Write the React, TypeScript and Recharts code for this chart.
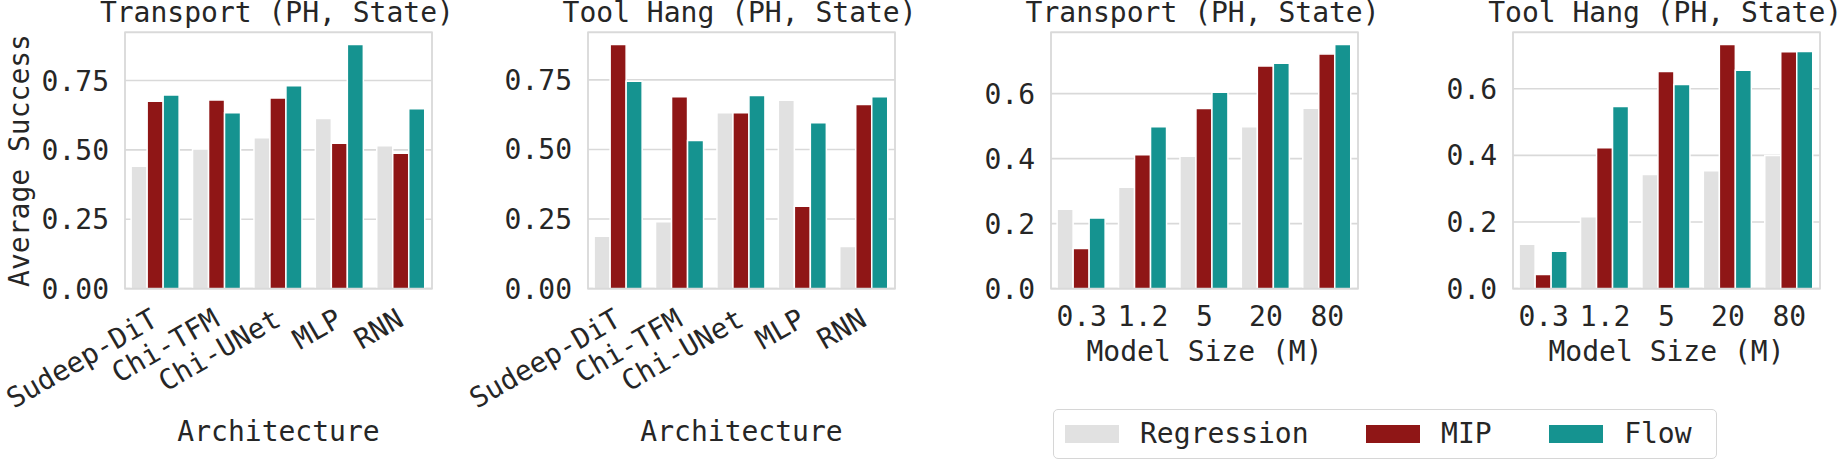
import { BarChart, Bar, XAxis, YAxis, CartesianGrid, ReferenceArea, Label } from 'recharts'

const architectures = ['Sudeep-DiT', 'Chi-TFM', 'Chi-UNet', 'MLP', 'RNN']
const modelSizes = ['0.3', '1.2', '5', '20', '80']

// success rates by architecture
const transportArchRegression = [0.441, 0.503, 0.544, 0.613, 0.515]
const transportArchMip = [0.675, 0.68, 0.687, 0.524, 0.488]
const transportArchFlow = [0.698, 0.634, 0.731, 0.88, 0.648]

const toolHangArchRegression = [0.188, 0.24, 0.632, 0.677, 0.151]
const toolHangArchMip = [0.877, 0.689, 0.632, 0.296, 0.661]
const toolHangArchFlow = [0.745, 0.532, 0.694, 0.596, 0.689]

// success rates by model size
const transportSizeRegression = [0.244, 0.312, 0.407, 0.498, 0.555]
const transportSizeMip = [0.123, 0.412, 0.554, 0.685, 0.722]
const transportSizeFlow = [0.217, 0.498, 0.604, 0.693, 0.751]

const toolHangSizeRegression = [0.133, 0.216, 0.343, 0.354, 0.4]
const toolHangSizeMip = [0.042, 0.423, 0.652, 0.733, 0.711]
const toolHangSizeFlow = [0.112, 0.547, 0.613, 0.656, 0.712]

const archTicks = [0, 0.25, 0.5, 0.75]
const sizeTicks = [0, 0.2, 0.4, 0.6]

const series = [
  { key: 'regression', name: 'Regression', color: '#e1e1e1' },
  { key: 'mip', name: 'MIP', color: '#8f1616' },
  { key: 'flow', name: 'Flow', color: '#159390' },
]

const FONT = "'DejaVu Sans Mono', monospace"
const TEXT = '#262626'
const GRID = '#d9d9d9'
const FS = 28

const PLOT_TOP = 32.3
const PLOT_W = 307
const Y_AXIS_W = 125
const X_AXIS_H = 172.4

function RotatedTick(props: any) {
  const { x, y, payload } = props
  const ax = x + 4
  return (
    <text
      x={ax}
      y={y}
      transform={`rotate(-30, ${ax}, ${y})`}
      textAnchor="end"
      fill={TEXT}
      fontSize={FS}
      fontFamily={FONT}
    >
      {payload.value}
    </text>
  )
}

// bar with a white edge on the sides and top, bottom left open so the frame stays visible
function EdgedBar(props: any) {
  const { x, y, width, height, fill } = props
  if (!height || height <= 0) return null
  return (
    <g>
      <rect x={x} y={y} width={width} height={height} fill={fill} />
      <path
        d={`M${x},${y + height}V${y}H${x + width}V${y + height}`}
        fill="none"
        stroke="#ffffff"
        strokeWidth={1.5}
      />
    </g>
  )
}

interface PanelProps {
  title: string
  plotLeft: number
  categories: string[]
  regression: number[]
  mip: number[]
  flow: number[]
  ticks: number[]
  digits: number
  xLabel: string
  xLabelOffset: number
  rotated?: boolean
  yLabel?: string
}

function Panel({ title, plotLeft, categories, regression, mip, flow, ticks, digits, xLabel, xLabelOffset, rotated, yLabel }: PanelProps) {
  const data = categories.map((c, i) => ({
    name: c,
    regression: regression[i],
    mip: mip[i],
    flow: flow[i],
  }))
  const top = Math.max(...regression, ...mip, ...flow) * 1.05
  const centre = plotLeft + PLOT_W / 2 - 1.6

  return (
    <>
      <div
        style={{
          position: 'absolute',
          left: centre - 250,
          top: 0,
          width: 500,
          textAlign: 'center',
          fontFamily: FONT,
          fontSize: FS,
          lineHeight: '26px',
          color: TEXT,
          whiteSpace: 'nowrap',
        }}
      >
        {title}
      </div>
      <div style={{ position: 'absolute', left: plotLeft - Y_AXIS_W, top: 0 }}>
        <BarChart
          width={Y_AXIS_W + PLOT_W + 8}
          height={461}
          data={data}
          margin={{ top: PLOT_TOP, right: 8, bottom: 0, left: 0 }}
          barCategoryGap="10%"
          barGap={0}
        >
          <CartesianGrid vertical={false} stroke={GRID} strokeWidth={1.6} />
          <XAxis
            dataKey="name"
            interval={0}
            height={X_AXIS_H}
            axisLine={false}
            tickLine={false}
            tickSize={0}
            tickMargin={rotated ? 36 : 18}
            tick={rotated ? <RotatedTick /> : { fill: TEXT, fontSize: FS, fontFamily: FONT }}
          >
            <Label
              content={({ viewBox }: any) => (
                <text
                  x={viewBox.x + viewBox.width / 2}
                  y={viewBox.y + xLabelOffset}
                  textAnchor="middle"
                  fill={TEXT}
                  fontSize={FS}
                  fontFamily={FONT}
                >
                  {xLabel}
                </text>
              )}
            />
          </XAxis>
          <YAxis
            domain={[0, top]}
            ticks={ticks}
            width={Y_AXIS_W}
            axisLine={false}
            tickLine={false}
            tickSize={0}
            tickMargin={16}
            tickFormatter={(v: number) => v.toFixed(digits)}
            tick={{ fill: TEXT, fontSize: FS, fontFamily: FONT }}
          >
            {yLabel && (
              <Label
                content={({ viewBox }: any) => {
                  const lx = viewBox.x + 29
                  const ly = viewBox.y + viewBox.height / 2
                  return (
                    <text
                      x={lx}
                      y={ly}
                      transform={`rotate(-90, ${lx}, ${ly})`}
                      textAnchor="middle"
                      fill={TEXT}
                      fontSize={FS}
                      fontFamily={FONT}
                    >
                      {yLabel}
                    </text>
                  )
                }}
              />
            )}
          </YAxis>
          {series.map((s) => (
            <Bar
              key={s.key}
              dataKey={s.key}
              name={s.name}
              fill={s.color}
              shape={<EdgedBar />}
              isAnimationActive={false}
            />
          ))}
          <ReferenceArea
            y1={0}
            y2={top}
            fill="none"
            stroke={GRID}
            strokeWidth={1.8}
            ifOverflow="visible"
            zIndex={2000}
          />
        </BarChart>
      </div>
    </>
  )
}

function LegendBox() {
  return (
    <div
      style={{
        position: 'absolute',
        left: 1053,
        top: 409,
        width: 651,
        height: 48,
        border: '1.3px solid #d6d6d6',
        borderRadius: 5,
        display: 'flex',
        alignItems: 'center',
        paddingLeft: 11,
        boxSizing: 'content-box',
        fontFamily: FONT,
        fontSize: FS,
        color: TEXT,
      }}
    >
      {series.map((s, i) => (
        <div key={s.key} style={{ display: 'flex', alignItems: 'center', marginLeft: i === 0 ? 0 : 57.5 }}>
          <div style={{ width: 54, height: 18, background: s.color, marginRight: 21 }} />
          <span style={{ lineHeight: `${FS}px` }}>{s.name}</span>
        </div>
      ))}
    </div>
  )
}

export default function App() {
  return (
    <div
      style={{
        position: 'absolute',
        left: 0,
        top: 0,
        width: 1838,
        height: 461,
        background: '#ffffff',
        overflow: 'hidden',
      }}
    >
      <Panel
        title="Transport (PH, State)"
        plotLeft={125}
        categories={architectures}
        regression={transportArchRegression}
        mip={transportArchMip}
        flow={transportArchFlow}
        ticks={archTicks}
        digits={2}
        xLabel="Architecture"
        xLabelOffset={152.3}
        rotated
        yLabel="Average Success"
      />
      <Panel
        title="Tool Hang (PH, State)"
        plotLeft={587.7}
        categories={architectures}
        regression={toolHangArchRegression}
        mip={toolHangArchMip}
        flow={toolHangArchFlow}
        ticks={archTicks}
        digits={2}
        xLabel="Architecture"
        xLabelOffset={152.3}
        rotated
      />
      <Panel
        title="Transport (PH, State)"
        plotLeft={1050.7}
        categories={modelSizes}
        regression={transportSizeRegression}
        mip={transportSizeMip}
        flow={transportSizeFlow}
        ticks={sizeTicks}
        digits={1}
        xLabel="Model Size (M)"
        xLabelOffset={72.3}
      />
      <Panel
        title="Tool Hang (PH, State)"
        plotLeft={1513.3}
        categories={modelSizes}
        regression={toolHangSizeRegression}
        mip={toolHangSizeMip}
        flow={toolHangSizeFlow}
        ticks={sizeTicks}
        digits={1}
        xLabel="Model Size (M)"
        xLabelOffset={72.3}
      />
      <LegendBox />
    </div>
  )
}
